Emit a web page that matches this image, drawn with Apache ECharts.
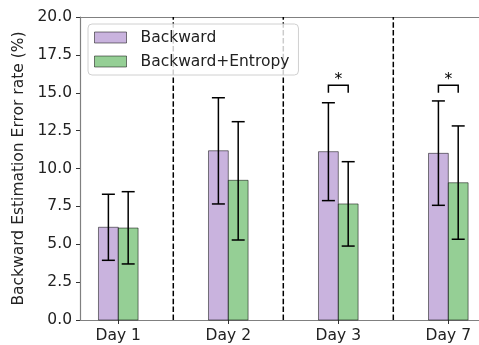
<!DOCTYPE html>
<html>
<head>
<meta charset="utf-8">
<script src="https://cdn.jsdelivr.net/npm/echarts@6/dist/echarts.min.js"></script>
<style>html,body{margin:0;padding:0;background:#fff}#c{width:479px;height:345px}</style>
</head>
<body>
<div id="c"></div>
<script>
const days = ['Day 1', 'Day 2', 'Day 3', 'Day 7'];
const backward = [6.12, 11.17, 11.11, 11.0];
const backwardLo = [3.94, 7.66, 7.88, 7.57];
const backwardHi = [8.30, 14.67, 14.34, 14.46];
const entropy = [6.07, 9.22, 7.66, 9.06];
const entropyLo = [3.70, 5.28, 4.88, 5.33];
const entropyHi = [8.47, 13.09, 10.45, 12.81];
const separators = [0.5, 1.5, 2.5];
const sigDays = ['Day 3', 'Day 7'];
const sigBracket = [15.0, 15.5];
const sigLabel = '*';

const FONT = 'DejaVu Sans';
const FS = 15.5;
const barW = 0.18;

function barRender(offset, fill) {
  return function (params, api) {
    const x = api.value(0) + offset, v = api.value(1), lo = api.value(2), hi = api.value(3);
    const tl = api.coord([x - barW / 2, v]);
    const br = api.coord([x + barW / 2, 0]);
    const pLo = api.coord([x, lo]);
    const pHi = api.coord([x, hi]);
    const cap = 6.5;
    const errStyle = { stroke: '#000', lineWidth: 1.5 };
    return {
      type: 'group',
      children: [
        { type: 'rect', shape: { x: tl[0], y: tl[1], width: br[0] - tl[0], height: br[1] - tl[1] },
          style: { fill: fill, stroke: 'rgba(0,0,0,0.5)', lineWidth: 1 } },
        { type: 'line', shape: { x1: pLo[0], y1: pLo[1], x2: pHi[0], y2: pHi[1] }, style: errStyle },
        { type: 'line', shape: { x1: pLo[0] - cap, y1: pLo[1], x2: pLo[0] + cap, y2: pLo[1] }, style: errStyle },
        { type: 'line', shape: { x1: pHi[0] - cap, y1: pHi[1], x2: pHi[0] + cap, y2: pHi[1] }, style: errStyle }
      ]
    };
  };
}

const purple = 'rgba(148,103,189,0.5)';
const green = 'rgba(44,160,44,0.5)';

const option = {
  animation: false,
  grid: { left: 80, right: 0, top: 17, bottom: 25 },
  xAxis: [{
    type: 'value', min: -0.348, max: 3.279,
    splitLine: { show: false },
    axisLine: { show: true, onZero: false, lineStyle: { color: '#808080', width: 1.2 } },
    axisTick: { show: true, length: 4, lineStyle: { color: '#333', width: 1 }, customValues: [0, 1, 2, 3] },
    axisLabel: { customValues: [0, 1, 2, 3], formatter: v => days[Math.round(v)], margin: 8,
      fontFamily: FONT, fontSize: FS, color: '#222' }
  }, {
    type: 'value', position: 'top', min: -0.348, max: 3.279,
    splitLine: { show: false }, axisTick: { show: false }, axisLabel: { show: false },
    axisLine: { show: true, onZero: false, lineStyle: { color: '#808080', width: 1.2 } }
  }],
  yAxis: {
    type: 'value', min: 0, max: 20, interval: 2.5,
    name: 'Backward Estimation Error rate (%)', nameLocation: 'middle', nameGap: 49,
    nameTextStyle: { fontFamily: FONT, fontSize: FS, color: '#222' },
    splitLine: { show: false },
    axisLine: { show: true, onZero: false, lineStyle: { color: '#808080', width: 1.2 } },
    axisTick: { show: true, length: 4, lineStyle: { color: '#333', width: 1 } },
    axisLabel: { formatter: v => v.toFixed(1), margin: 8, fontFamily: FONT, fontSize: FS, color: '#222' }
  },
  legend: {
    orient: 'vertical', left: 88, top: 24,
    padding: [5.5, 9, 5.5, 6], itemGap: 8,
    itemWidth: 32, itemHeight: 11,
    backgroundColor: 'rgba(255,255,255,0.8)', borderColor: '#d0d0d0', borderWidth: 1, borderRadius: 4,
    textStyle: { fontFamily: FONT, fontSize: FS, color: '#222', lineHeight: 16, padding: [0, 0, 0, 9] },
    itemStyle: { borderColor: 'rgba(0,0,0,0.5)', borderWidth: 1 },
    icon: 'rect',
    data: ['Backward', 'Backward+Entropy']
  },
  series: [
    {
      type: 'custom', name: 'separators',
      data: separators.map(s => [s]),
      renderItem: function (params, api) {
        const a = api.coord([api.value(0), 0]);
        const b = api.coord([api.value(0), 20]);
        return { type: 'line', shape: { x1: a[0], y1: a[1], x2: b[0], y2: b[1] },
          style: { stroke: '#000', lineWidth: 1.5, lineDash: [5.5, 2.4] } };
      }
    },
    {
      type: 'custom', name: 'Backward', itemStyle: { color: purple },
      data: days.map((d, i) => [i, backward[i], backwardLo[i], backwardHi[i]]),
      renderItem: barRender(-barW / 2, purple)
    },
    {
      type: 'custom', name: 'Backward+Entropy', itemStyle: { color: green },
      data: days.map((d, i) => [i, entropy[i], entropyLo[i], entropyHi[i]]),
      renderItem: barRender(barW / 2, green)
    },
    {
      type: 'custom', name: 'significance',
      data: sigDays.map(d => [days.indexOf(d), sigBracket[0], sigBracket[1]]),
      renderItem: function (params, api) {
        const x = api.value(0);
        const l0 = api.coord([x - barW / 2, api.value(1)]);
        const l1 = api.coord([x - barW / 2, api.value(2)]);
        const r0 = api.coord([x + barW / 2, api.value(1)]);
        const r1 = api.coord([x + barW / 2, api.value(2)]);
        const st = { stroke: '#000', lineWidth: 1.5, fill: null };
        return { type: 'group', children: [
          { type: 'polyline', shape: { points: [l0, l1, r1, r0] }, style: st },
          { type: 'text', x: (l1[0] + r1[0]) / 2, y: l1[1] + 3,
            style: { text: sigLabel, fontFamily: FONT, fontSize: FS, fill: '#000', align: 'center', verticalAlign: 'bottom' } }
        ] };
      }
    }
  ]
};
const chart = echarts.init(document.getElementById('c'), null, { renderer: 'canvas' });
chart.setOption(option);
</script>
</body>
</html>
